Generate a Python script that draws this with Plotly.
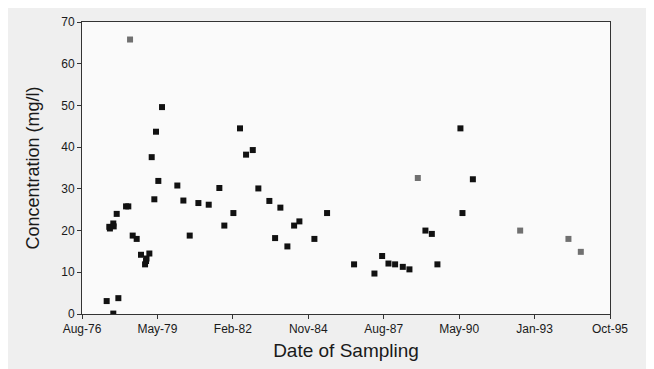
import pandas as pd
import plotly.graph_objects as go

# sampling dates and concentrations
dates_black = ['1977-07-08', '1977-08-12', '1977-10-04', '1977-10-09', '1977-11-18', '1977-12-10',
               '1977-10-04', '1978-03-22', '1978-04-21', '1978-06-18', '1978-08-10', '1978-10-06',
               '1978-11-29', '1978-12-12', '1978-12-18', '1979-01-25', '1979-02-25', '1979-04-01',
               '1979-04-23', '1979-05-24', '1979-07-12', '1980-01-31', '1980-04-20', '1980-07-13',
               '1980-11-05', '1981-03-22', '1981-08-10', '1981-10-15', '1982-02-12', '1982-05-11',
               '1982-07-30', '1982-10-27', '1983-01-09', '1983-06-04', '1983-08-19', '1983-10-28',
               '1984-01-29', '1984-04-27', '1984-07-06', '1985-01-21', '1985-07-08', '1986-07-01',
               '1987-03-28', '1987-07-08', '1987-09-30', '1987-12-27', '1988-04-07', '1988-07-04',
               '1989-02-01', '1989-04-27', '1989-07-10', '1990-05-11', '1990-06-07', '1990-10-23',
               '1977-08-20']
conc_black = [3.1, 20.9, 21.7, 21.0, 24.0, 3.8,
              0.1, 25.8, 25.8, 18.8, 18.0, 14.2,
              11.9, 12.7, 13.3, 14.5, 37.6, 27.5,
              43.7, 31.9, 49.6, 30.8, 27.2, 18.8,
              26.6, 26.2, 30.2, 21.2, 24.2, 44.5,
              38.2, 39.3, 30.1, 27.1, 18.2, 25.5,
              16.2, 21.2, 22.2, 18.0, 24.2, 11.9,
              9.7, 13.9, 12.1, 11.9, 11.3, 10.7,
              20.0, 19.2, 11.9, 44.5, 24.2, 32.3,
              20.5]

dates_grey = ['1978-05-14', '1988-10-23', '1992-07-11', '1994-04-12', '1994-09-23']
conc_grey = [65.8, 32.6, 20.0, 18.0, 14.9]

tick_text = ['Aug-76', 'May-79', 'Feb-82', 'Nov-84', 'Aug-87', 'May-90', 'Jan-93', 'Oct-95']
start = pd.Timestamp('1976-08-15')
tick_vals = [start + pd.Timedelta(days=1000 * i) for i in range(len(tick_text))]

fig = go.Figure()

fig.add_trace(go.Scatter(
    x=dates_black, y=conc_black, mode='markers',
    marker=dict(symbol='square', size=6, color='#111111'),
    showlegend=False))

fig.add_trace(go.Scatter(
    x=dates_grey, y=conc_grey, mode='markers',
    marker=dict(symbol='square', size=6, color='#707070'),
    showlegend=False))

# page body has an 8px margin, so the figure is shrunk by that much
fig.update_layout(
    width=646, height=361,
    margin=dict(l=74, r=44, t=7, b=55),
    paper_bgcolor='#efefef',
    plot_bgcolor='#fafafa',
    font=dict(family='Liberation Sans, Arial, sans-serif', color='#1a1a1a', size=12),
    xaxis=dict(
        type='date',
        range=[tick_vals[0], tick_vals[-1]],
        tickvals=tick_vals, ticktext=tick_text,
        ticks='outside', ticklen=4, tickcolor='#333333',
        showgrid=False, zeroline=False,
        showline=True, linecolor='#333333', linewidth=1, mirror=True,
        title=dict(text='Date of Sampling', font=dict(size=19), standoff=8),
    ),
    yaxis=dict(
        range=[0, 70], dtick=10,
        ticks='outside', ticklen=4, tickcolor='#333333',
        showgrid=False, zeroline=False,
        showline=True, linecolor='#333333', linewidth=1, mirror=True,
        title=dict(text='Concentration (mg/l)', font=dict(size=18), standoff=16),
    ),
)

fig.write_html("out.html")
